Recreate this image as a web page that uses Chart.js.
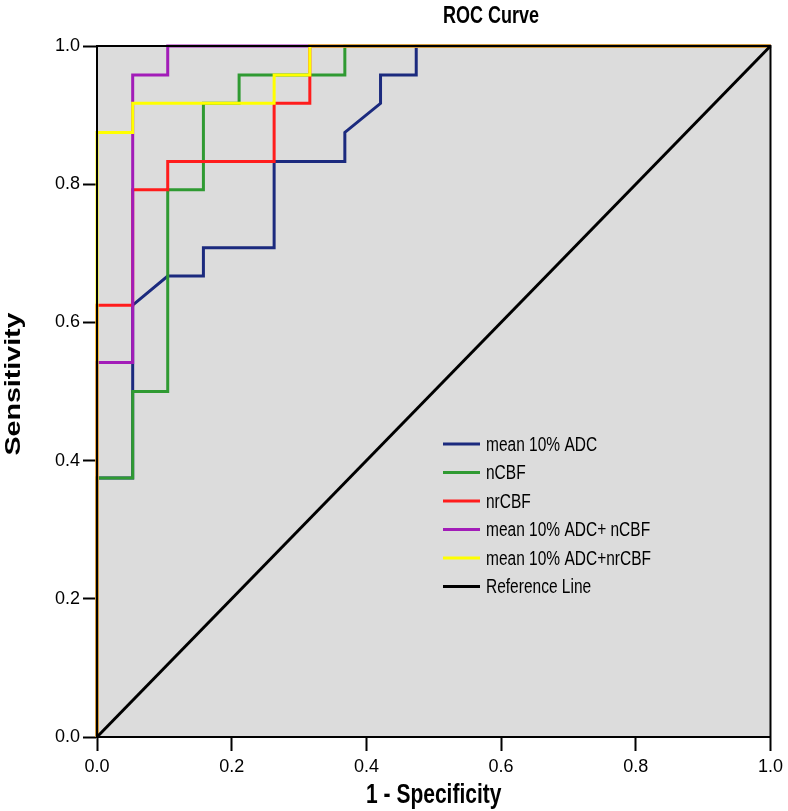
<!DOCTYPE html>
<html>
<head>
<meta charset="utf-8">
<script src="https://cdn.jsdelivr.net/npm/chart.js@4/dist/chart.umd.min.js"></script>
<style>
	html, body { margin: 0; padding: 0; background: #ffffff; }
	#wrap { position: relative; width: 788px; height: 811px; }
</style>
</head>
<body>
<div id="wrap"><canvas id="roc" width="788" height="811"></canvas></div>
<script>
(function () {

	'use strict';

	// ROC points (1 - specificity, sensitivity)
	var adcX = [0, 0, 0.053, 0.053, 0.105, 0.158, 0.158, 0.263, 0.263, 0.368, 0.368, 0.421, 0.421, 0.474, 0.474, 1];
	var adcY = [0, 0.375, 0.375, 0.625, 0.667, 0.667, 0.708, 0.708, 0.833, 0.833, 0.875, 0.917, 0.958, 0.958, 1, 1];

	var ncbfX = [0, 0, 0.053, 0.053, 0.105, 0.105, 0.158, 0.158, 0.211, 0.211, 0.368, 0.368, 1];
	var ncbfY = [0, 0.375, 0.375, 0.5, 0.5, 0.792, 0.792, 0.917, 0.917, 0.958, 0.958, 1, 1];

	var nrcbfX = [0, 0, 0.053, 0.053, 0.105, 0.105, 0.263, 0.263, 0.316, 0.316, 1];
	var nrcbfY = [0, 0.625, 0.625, 0.792, 0.792, 0.833, 0.833, 0.917, 0.917, 1, 1];

	var adcNcbfX = [0, 0, 0.053, 0.053, 0.105, 0.105, 1];
	var adcNcbfY = [0, 0.542, 0.542, 0.958, 0.958, 1, 1];

	var adcNrcbfX = [0, 0, 0.053, 0.053, 0.263, 0.263, 0.316, 0.316, 1];
	var adcNrcbfY = [0, 0.875, 0.875, 0.917, 0.917, 0.958, 0.958, 1, 1];

	var refX = [0, 1];
	var refY = [0, 1];

	var labels = ['mean 10% ADC', 'nCBF', 'nrCBF', 'mean 10% ADC+ nCBF', 'mean 10% ADC+nrCBF', 'Reference Line'];
	var colors = ['#1b2a7e', '#2f9a32', '#ff1c1c', '#a21cb8', '#ffff00', '#000000'];
	var xTicks = [0, 0.2, 0.4, 0.6, 0.8, 1.0];

	var FONT = "'Liberation Sans', Arial, sans-serif";
	var STRETCH = 1.3; // the source picture is stretched vertically

	function pts(xs, ys) {
		return xs.map(function (x, i) { return { x: x, y: ys[i] }; });
	}

	function line(i, xs, ys, order) {
		return {
			label: labels[i],
			data: pts(xs, ys),
			borderColor: colors[i],
			backgroundColor: colors[i],
			borderWidth: 3,
			showLine: true,
			pointRadius: 0,
			pointHoverRadius: 0,
			fill: false,
			tension: 0,
			clip: 4,
			order: order
		};
	}

	function tallText(ctx, text, x, y, font, align, vertical) {
		ctx.save();
		ctx.translate(x, y);
		if (vertical) {
			ctx.rotate(-Math.PI / 2);
			ctx.scale(STRETCH, 1);
		} else {
			ctx.scale(1, STRETCH);
		}
		ctx.font = font;
		ctx.textAlign = align;
		ctx.textBaseline = 'middle';
		ctx.fillStyle = '#000';
		ctx.fillText(text, 0, 0);
		ctx.restore();
	}

	// grey plot background, frame on top of the curves, titles and legend
	var frame = {
		id: 'frame',
		beforeDraw: function (chart) {
			var a = chart.chartArea, ctx = chart.ctx;
			ctx.save();
			ctx.fillStyle = '#dcdcdc';
			ctx.fillRect(a.left, a.top, a.right - a.left, a.bottom - a.top);
			ctx.restore();
		},
		afterDatasetsDraw: function (chart) {
			var a = chart.chartArea, ctx = chart.ctx;
			ctx.save();
			ctx.strokeStyle = '#000';
			ctx.lineWidth = 2;
			ctx.strokeRect(a.left, a.top, a.right - a.left, a.bottom - a.top);
			ctx.restore();
		},
		afterDraw: function (chart) {
			var ctx = chart.ctx;
			var a = chart.chartArea;

			tallText(ctx, 'ROC Curve', 491, 17, 'bold 18px ' + FONT, 'center', false);
			tallText(ctx, '1 - Specificity', (a.left + a.right) / 2, 795, 'bold 21px ' + FONT, 'center', false);
			tallText(ctx, 'Sensitivity', 14, 384, 'bold 22px ' + FONT, 'center', true);

			chart.data.datasets.forEach(function (ds, i) {
				var y = 444 + i * 28.5;
				ctx.save();
				ctx.strokeStyle = ds.borderColor;
				ctx.lineWidth = 3;
				ctx.beginPath();
				ctx.moveTo(443, y);
				ctx.lineTo(480, y);
				ctx.stroke();
				ctx.restore();
				tallText(ctx, ds.label, 486, y + 1, '15.5px ' + FONT, 'left', false);
			});
		}
	};

	var tickFont = { family: FONT, size: 18 };

	new Chart(document.getElementById('roc'), {
		type: 'scatter',
		data: {
			datasets: [
				line(0, adcX, adcY, 5),
				line(1, ncbfX, ncbfY, 4),
				line(2, nrcbfX, nrcbfY, 3),
				line(3, adcNcbfX, adcNcbfY, 2),
				line(4, adcNrcbfX, adcNrcbfY, 1),
				line(5, refX, refY, 0)
			]
		},
		options: {
			responsive: false,
			animation: false,
			events: [],
			layout: { padding: { top: 46, right: 17, left: 0, bottom: 0 } },
			plugins: {
				legend: { display: false },
				title: { display: false },
				tooltip: { enabled: false }
			},
			scales: {
				x: {
					type: 'linear',
					min: 0,
					max: 1,
					afterBuildTicks: function (scale) {
						scale.ticks = xTicks.map(function (v) { return { value: v }; });
					},
					afterFit: function (scale) { scale.height = 74; },
					ticks: {
						color: '#000',
						font: tickFont,
						padding: 5,
						maxRotation: 0,
						callback: function (v) { return v.toFixed(1); }
					},
					grid: { drawOnChartArea: false, tickLength: 14, tickColor: '#000', tickWidth: 2 },
					border: { display: true, color: '#000', width: 2 }
				},
				y: {
					type: 'linear',
					min: 0,
					max: 1,
					afterBuildTicks: function (scale) {
						scale.ticks = xTicks.map(function (v) { return { value: v }; });
					},
					afterFit: function (scale) { scale.width = 97; },
					ticks: {
						color: '#000',
						font: tickFont,
						padding: 3,
						callback: function (v) { return v.toFixed(1); }
					},
					grid: { drawOnChartArea: false, tickLength: 14, tickColor: '#000', tickWidth: 2 },
					border: { display: true, color: '#000', width: 2 }
				}
			}
		},
		plugins: [frame]
	});

})();
</script>
</body>
</html>
